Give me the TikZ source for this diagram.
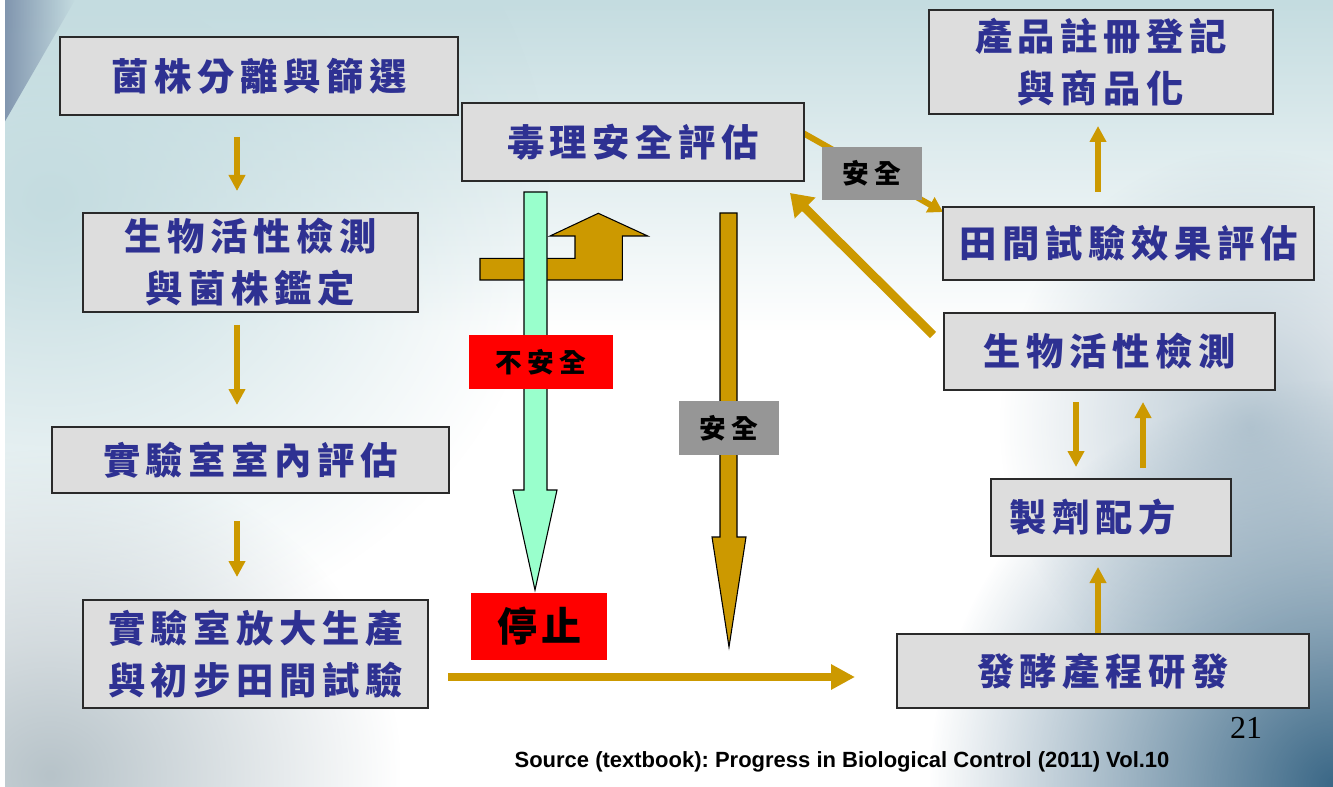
\documentclass[tikz,border=0pt]{standalone}
\usepackage{fontspec}
\setmainfont{Liberation Serif}
\newfontfamily\cjk[LetterSpace=15]{Noto Sans CJK TC}
\newfontfamily\cjklab[LetterSpace=20]{Noto Sans CJK TC}
\newfontfamily\cjkstop[LetterSpace=10]{Noto Sans CJK TC}
\newfontfamily\arialb{Liberation Sans}
\usetikzlibrary{arrows.meta,fadings}
\tikzfading[name=myfadeout, inner color=transparent!0, outer color=transparent!100]
\definecolor{gold}{HTML}{CC9900}
\definecolor{mint}{HTML}{99FFCC}
\definecolor{labgray}{HTML}{969696}
\definecolor{boxfill}{HTML}{DDDDDD}
\definecolor{boxline}{HTML}{2A2A2A}
\definecolor{cjkblue}{RGB}{46,49,146}
\definecolor{bgteal}{HTML}{C4DCE0}
\definecolor{bgslate}{HTML}{3A6786}
\definecolor{bggray}{HTML}{B7C3C9}
\definecolor{bookblue}{HTML}{6A7E9E}
\begin{document}
\frenchspacing
\begin{tikzpicture}[x=0.75pt,y=-0.75pt,
  bsize/.style 2 args={minimum width=#1*0.75pt, minimum height=#2*0.75pt},
  box/.style={draw=boxline, line width=1.4pt, fill=boxfill, inner sep=0pt,
    text=cjkblue, font=\cjk\bfseries\fontsize{28}{39}\selectfont, align=center},
  lab/.style={inner sep=0pt, text=black, font=\cjklab\bfseries\fontsize{20}{24}\selectfont},
  sarrow/.style={draw=gold, line width=3.9pt, -{Triangle[width=12pt,length=12pt]}, fill=gold},
  harrow/.style={draw=gold, line width=6pt, -{Triangle[width=18pt,length=18pt]}, fill=gold},
  darrow/.style={draw=gold, line width=6.5pt, -{Triangle[width=21pt,length=16pt]}, fill=gold},
  tarrow/.style={draw=gold, line width=4.5pt, -{Triangle[width=12.5pt,length=11pt]}, fill=gold},
  blockarrow/.style={draw=black, line width=0.8pt, line join=miter}
]
\useasboundingbox (0,0) rectangle (1333,787);
% background
\begin{scope}
  \clip (0,0) rectangle (1333,787);
  \fill[white] (0,0) rectangle (1333,787);
  \fill[bgteal, path fading=south] (0,0) rectangle (1333,330);
  \fill[bgteal, path fading=myfadeout] (-450,-250) rectangle (550,650);
  \fill[bggray, path fading=myfadeout] (-300,450) rectangle (400,1100);
  \fill[bgslate, path fading=myfadeout] (930,380) rectangle (1740,1190);
  \fill[bgslate!60!white, path fading=myfadeout, opacity=0.6] (1000,150) rectangle (1500,700);
  \fill[bookblue, path fading=east, opacity=0.8] (0,0) -- (75,0) -- (0,130) -- cycle;
  \fill[white] (0,0) rectangle (5,787);
\end{scope}

% connector end points
\coordinate (a1s) at (237,137); \coordinate (a1e) at (237,191);
\coordinate (a2s) at (237,325); \coordinate (a2e) at (237,405);
\coordinate (a3s) at (237,521); \coordinate (a3e) at (237,577);
\coordinate (hs) at (448,677);  \coordinate (he) at (855,677);
\coordinate (r1s) at (1098,633); \coordinate (r1e) at (1098,567);
\coordinate (r2s) at (1076,402); \coordinate (r2e) at (1076,467);
\coordinate (r3s) at (1143,468); \coordinate (r3e) at (1143,402);
\coordinate (r4s) at (1098,192); \coordinate (r4e) at (1098,126);
\coordinate (ds) at (933,335);  \coordinate (de) at (790,193);
\coordinate (ts) at (803,133);  \coordinate (te) at (943,212);

% small connectors
\draw[sarrow] (a1s) -- (a1e);
\draw[sarrow] (a2s) -- (a2e);
\draw[sarrow] (a3s) -- (a3e);
\draw[sarrow] (r1s) -- (r1e);
\draw[sarrow] (r2s) -- (r2e);
\draw[sarrow] (r3s) -- (r3e);
\draw[sarrow] (r4s) -- (r4e);
\draw[harrow] (hs) -- (he);
\draw[darrow] (ds) -- (de);
\draw[tarrow] (ts) -- (te);

% block arrows
\filldraw[blockarrow, fill=gold] (480,258.3) -- (575,258.3) -- (575,236) -- (550,236) -- (598.3,213.3)
  -- (647.7,236) -- (622.3,236) -- (622.3,280) -- (480,280) -- cycle;
\filldraw[blockarrow, fill=mint] (524,192) -- (547,192) -- (547,490) -- (557,490) -- (535,590)
  -- (513,490) -- (524,490) -- cycle;
\filldraw[blockarrow, fill=gold] (720,213) -- (737,213) -- (737,537) -- (746,537) -- (729,647)
  -- (712,537) -- (720,537) -- cycle;

% boxes
\node[box,bsize={398}{78}] (b1) at (259,76) {菌株分離與篩選};
\node[box,bsize={335}{99}] (b2) at (250.5,262.5) {生物活性檢測\\與菌株鑑定};
\node[box,bsize={397}{66}] (b3) at (250.5,460) {實驗室室內評估};
\node[box,bsize={345}{108}] (b4) at (255.5,654) {實驗室放大生產\\與初步田間試驗};
\node[box,bsize={342}{78}] (b5) at (633,142) {毒理安全評估};
\node[box,bsize={344}{104}] (b6) at (1101,62) {產品註冊登記\\與商品化};
\node[box,bsize={371}{73}] (b7) at (1128.5,243.5) {田間試驗效果評估};
\node[box,bsize={331}{77}] (b8) at (1109.5,351.5) {生物活性檢測};
\node[box,bsize={240}{77}] (b9) at (1111,517.5) {製劑配方\hspace{27pt}};
\node[box,bsize={412}{74}] (b10) at (1103,671) {發酵產程研發};

% labels
\node[lab, fill=red, bsize={144}{54}] (unsafe) at (541,362) {不安全\hspace{13pt}};
\node[lab, fill=labgray, bsize={100}{54}] (safe1) at (729,428) {安全};
\node[lab, fill=labgray, bsize={100}{53}] (safe2) at (872,173.5) {安全};
\node[lab, fill=red, bsize={136}{67}, font=\cjkstop\bfseries\fontsize{30}{34}\selectfont] (stop) at (539,626.5) {停止\hspace{16pt}};

% page number and source
\node[font=\fontsize{24}{28}\selectfont, inner sep=0pt, anchor=base] (pg) at (1246,738) {21};
\node[font=\arialb\bfseries\fontsize{16.5}{20}\selectfont, inner sep=0pt, anchor=base] (src) at (842,767)
  {Source (textbook): Progress in Biological Control (2011) Vol.10};
\end{tikzpicture}
\end{document}
